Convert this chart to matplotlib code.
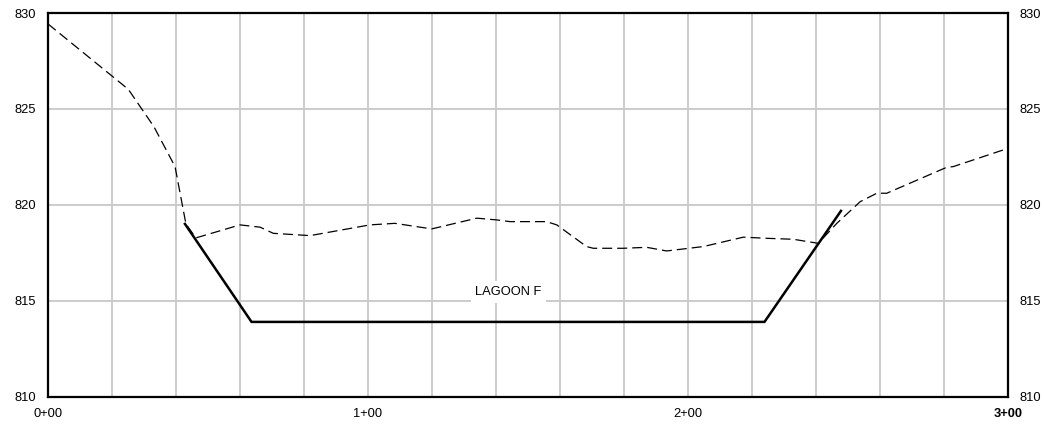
import matplotlib
matplotlib.use("Agg")
import matplotlib.pyplot as plt
from matplotlib.lines import Line2D

plt.rcParams['font.family'] = ['Liberation Sans', 'DejaVu Sans']

# Existing ground profile (dashed)
ground_x = [0, 25.1, 33.1, 39.7, 43.1, 46.2, 60, 66.3, 70.4, 81.9, 100.6, 108.4, 119.9,
            134, 140.2, 144.4, 155.8, 159, 168.3, 170.4, 179.8, 187.1, 193.3, 204.8,
            217.3, 224.6, 232.9, 240.7, 246.5, 253.8, 259, 262.1, 280.8, 282.9, 300]
ground_y = [829.43, 826.02, 824.07, 821.99, 819.0, 818.27, 818.95, 818.83, 818.51, 818.39,
            818.95, 819.03, 818.74, 819.30, 819.21, 819.12, 819.12, 818.95, 817.82, 817.73,
            817.73, 817.78, 817.59, 817.82, 818.31, 818.25, 818.2, 817.99, 819.03, 820.16,
            820.6, 820.6, 821.95, 821.99, 822.94]

# Proposed lagoon section (solid)
lagoon_x = [42.8, 63.6, 223.9, 247.8]
lagoon_y = [819.0, 813.89, 813.89, 819.68]

label_text = "LAGOON F"
label_pos = (143.8, 815.45)

x_major = [0, 100, 200, 300]
x_labels = ["0+00", "1+00", "2+00", "3+00"]
y_ticks = [810, 815, 820, 825, 830]

fig = plt.figure(figsize=(10.44, 4.25), dpi=100)
ax = fig.add_axes([48/1044, 1-396.5/425, (1008-48)/1044, (396.5-13)/425])

ax.set_xlim(0, 300)
ax.set_ylim(810, 830)

grid_x = list(range(20, 300, 20))
for gx in grid_x:
    ax.axvline(gx, color='#c8c8c8', lw=1.3, zorder=0)
for gy in y_ticks[1:-1]:
    ax.axhline(gy, color='#c8c8c8', lw=1.3, zorder=0)

ln, = ax.plot(ground_x, ground_y, color='black', lw=0.9, zorder=3)
ln.set_dashes((8, 4))

ax.plot(lagoon_x, lagoon_y, color='black', lw=1.8, zorder=4, solid_joinstyle='miter')

ax.text(label_pos[0], label_pos[1], label_text, ha='center', va='center', fontsize=9.3,
        zorder=5, bbox=dict(boxstyle='square,pad=0.35', fc='white', ec='none'))

for s in ax.spines.values():
    s.set_linewidth(1.6)
    s.set_color('black')

ax.set_xticks(x_major)
ax.set_xticklabels(x_labels, fontsize=9.3)
ax.get_xticklabels()[-1].set_fontweight('bold')
ax.set_yticks(y_ticks)
ax.set_yticklabels([str(v) for v in y_ticks], fontsize=9.3)
ax.tick_params(axis='both', length=0)
ax.tick_params(axis='x', pad=8)
ax.tick_params(axis='y', pad=8.5, left=True, right=True, labelleft=True, labelright=True)

fig.savefig("out.png", dpi=100)
